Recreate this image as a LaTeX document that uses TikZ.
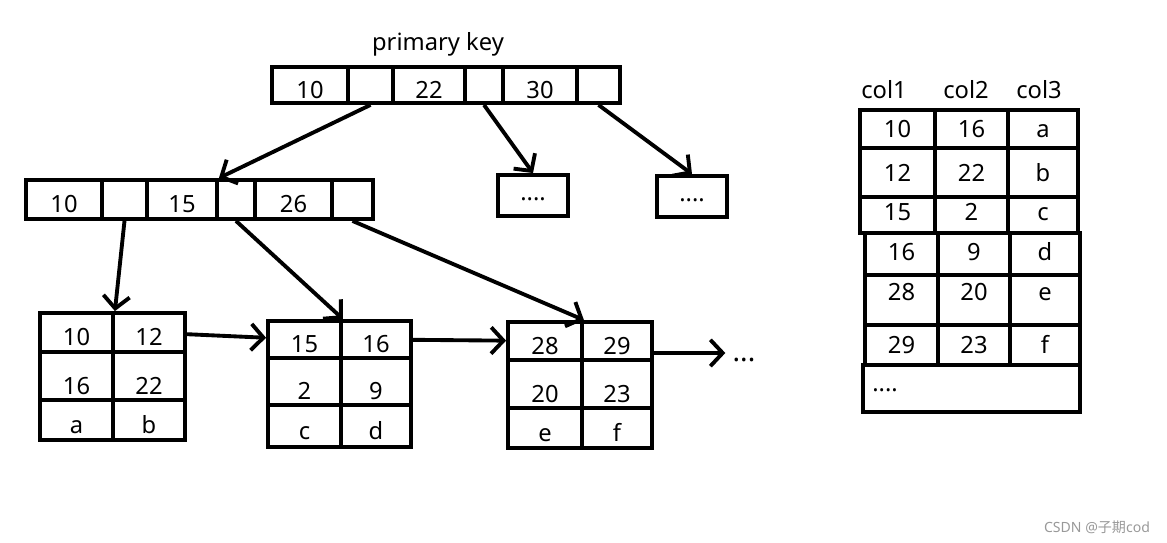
\documentclass[tikz,border=0pt]{standalone}
\usepackage{fontspec}
\setmainfont{Noto Sans}
\newfontfamily\cjk{Noto Sans CJK SC}
\usetikzlibrary{arrows.meta}

\begin{document}
\begin{tikzpicture}[x=0.02cm,y=-0.02cm,font=\fontsize{13.5}{16}\selectfont]
        \tikzstyle{cell} = [draw,line width=2.2pt,inner sep=0pt,text height=15pt,text depth=0pt]
        \tikzstyle{mid} = [text height=21pt]
        \tikzstyle{tcell} = [cell,text height=10pt]
        \tikzstyle{link} = [line width=2.2pt,-{Straight Barb[length=7pt,width=15pt]}]

        \useasboundingbox (0,0) rectangle (1167,543);

        % root page
        \node (title) at (438,44) {primary key};
        \node[cell,minimum width=1.52cm,minimum height=0.72cm] (r1) at (310,85) {10};
        \node[cell,minimum width=0.9cm,minimum height=0.72cm] (r2) at (370.5,85) {};
        \node[cell,minimum width=1.44cm,minimum height=0.72cm] (r3) at (429,85) {22};
        \node[cell,minimum width=0.76cm,minimum height=0.72cm] (r4) at (484,85) {};
        \node[cell,minimum width=1.48cm,minimum height=0.72cm] (r5) at (540,85) {30};
        \node[cell,minimum width=0.86cm,minimum height=0.72cm] (r6) at (598.5,85) {};

        % inner page
        \node[cell,minimum width=1.52cm,minimum height=0.78cm] (i1) at (64,199.5) {10};
        \node[cell,minimum width=0.9cm,minimum height=0.78cm] (i2) at (124.5,199.5) {};
        \node[cell,minimum width=1.4cm,minimum height=0.78cm] (i3) at (182,199.5) {15};
        \node[cell,minimum width=0.76cm,minimum height=0.78cm] (i4) at (236,199.5) {};
        \node[cell,minimum width=1.54cm,minimum height=0.78cm] (i5) at (293.5,199.5) {26};
        \node[cell,minimum width=0.82cm,minimum height=0.78cm] (i6) at (352.5,199.5) {};

        \node[cell,text height=6pt,minimum width=1.4cm,minimum height=0.82cm] (d1) at (533,195.5) {....};
        \node[cell,text height=6pt,minimum width=1.4cm,minimum height=0.82cm] (d2) at (692,196.5) {....};

        % leaf pages
        \node[cell,minimum width=1.46cm,minimum height=0.78cm] (l1a) at (76.5,332.5) {10};
        \node[cell,minimum width=1.44cm,minimum height=0.78cm] (l1b) at (149,332.5) {12};
        \node[cell,mid,minimum width=1.46cm,minimum height=0.96cm] (l1c) at (76.5,376) {16};
        \node[cell,mid,minimum width=1.44cm,minimum height=0.96cm] (l1d) at (149,376) {22};
        \node[cell,minimum width=1.46cm,minimum height=0.8cm] (l1e) at (76.5,420) {a};
        \node[cell,minimum width=1.44cm,minimum height=0.8cm] (l1f) at (149,420) {b};

        \node[cell,minimum width=1.46cm,minimum height=0.74cm] (l2a) at (304.5,339.5) {15};
        \node[cell,minimum width=1.4cm,minimum height=0.74cm] (l2b) at (376,339.5) {16};
        \node[cell,mid,minimum width=1.46cm,minimum height=0.94cm] (l2c) at (304.5,381.5) {2};
        \node[cell,mid,minimum width=1.4cm,minimum height=0.94cm] (l2d) at (376,381.5) {9};
        \node[cell,minimum width=1.46cm,minimum height=0.84cm] (l2e) at (304.5,426) {c};
        \node[cell,minimum width=1.4cm,minimum height=0.84cm] (l2f) at (376,426) {d};

        \node[cell,minimum width=1.48cm,minimum height=0.76cm] (l3a) at (545,341) {28};
        \node[cell,minimum width=1.4cm,minimum height=0.76cm] (l3b) at (617,341) {29};
        \node[cell,mid,minimum width=1.48cm,minimum height=0.96cm] (l3c) at (545,384) {20};
        \node[cell,mid,minimum width=1.4cm,minimum height=0.96cm] (l3d) at (617,384) {23};
        \node[cell,minimum width=1.48cm,minimum height=0.8cm] (l3e) at (545,428) {e};
        \node[cell,minimum width=1.4cm,minimum height=0.8cm] (l3f) at (617,428) {f};

        \node[font=\fontsize{16}{18}\selectfont\bfseries,inner xsep=4pt,text height=10pt,text depth=0pt] (more) at (744,353) {...};

        \draw[link] (r2.south) -- (i3.north east);
        \draw[link] (r4.south) -- (d1.north);
        \draw[link] (r6.south) -- (d2.north);
        \draw[link] (i2.south) -- (l1a.north east);
        \draw[link] (i4.south) -- (l2a.north east);
        \draw[link] (i6.south) -- (l3a.north east);
        \draw[link] (l1b) -- (l2a);
        \draw[link] (l2b) -- (l3a);
        \draw[link] (l3b.east |- more.west) -- (more.west);

        % table
        \node (h1) at (884,90) {col1};
        \node (h2) at (966,90) {col2};
        \node (h3) at (1039,90) {col3};

        \node[tcell,minimum width=1.5cm,minimum height=0.76cm] (t11) at (897.5,129) {10};
        \node[tcell,minimum width=1.46cm,minimum height=0.76cm] (t12) at (971.5,129) {16};
        \node[tcell,minimum width=1.4cm,minimum height=0.76cm] (t13) at (1043,129) {a};
        \node[tcell,minimum width=1.5cm,minimum height=0.98cm] (t21) at (897.5,172.5) {12};
        \node[tcell,minimum width=1.46cm,minimum height=0.98cm] (t22) at (971.5,172.5) {22};
        \node[tcell,minimum width=1.4cm,minimum height=0.98cm] (t23) at (1043,172.5) {b};
        \node[tcell,text depth=3.4pt,minimum width=1.5cm,minimum height=0.72cm] (t31) at (897.5,215) {15};
        \node[tcell,text depth=3.4pt,minimum width=1.46cm,minimum height=0.72cm] (t32) at (971.5,215) {2};
        \node[tcell,text depth=3.4pt,minimum width=1.4cm,minimum height=0.72cm] (t33) at (1043,215) {c};
        \node[tcell,text depth=3pt,minimum width=1.46cm,minimum height=0.84cm] (t41) at (901.5,254) {16};
        \node[tcell,text depth=3pt,minimum width=1.44cm,minimum height=0.84cm] (t42) at (974,254) {9};
        \node[tcell,text depth=3pt,minimum width=1.4cm,minimum height=0.84cm] (t43) at (1045,254) {d};
        \node[tcell,text depth=9pt,minimum width=1.46cm,minimum height=1.0cm] (t51) at (901.5,300) {28};
        \node[tcell,text depth=9pt,minimum width=1.44cm,minimum height=1.0cm] (t52) at (974,300) {20};
        \node[tcell,text depth=9pt,minimum width=1.4cm,minimum height=1.0cm] (t53) at (1045,300) {e};
        \node[tcell,minimum width=1.46cm,minimum height=0.8cm] (t61) at (901.5,345) {29};
        \node[tcell,minimum width=1.44cm,minimum height=0.8cm] (t62) at (974,345) {23};
        \node[tcell,minimum width=1.4cm,minimum height=0.8cm] (t63) at (1045,345) {f};
        \node[cell,minimum width=4.34cm,minimum height=0.94cm] (trest) at (971.5,388.5) {};
        \node (tdots) at (885,390) {....};

        \node[text=gray!80,font=\fontsize{8}{9}\selectfont] (mark) at (1097,527) {CSDN @{\cjk 子期}cod};

    \end{tikzpicture}
\end{document}
